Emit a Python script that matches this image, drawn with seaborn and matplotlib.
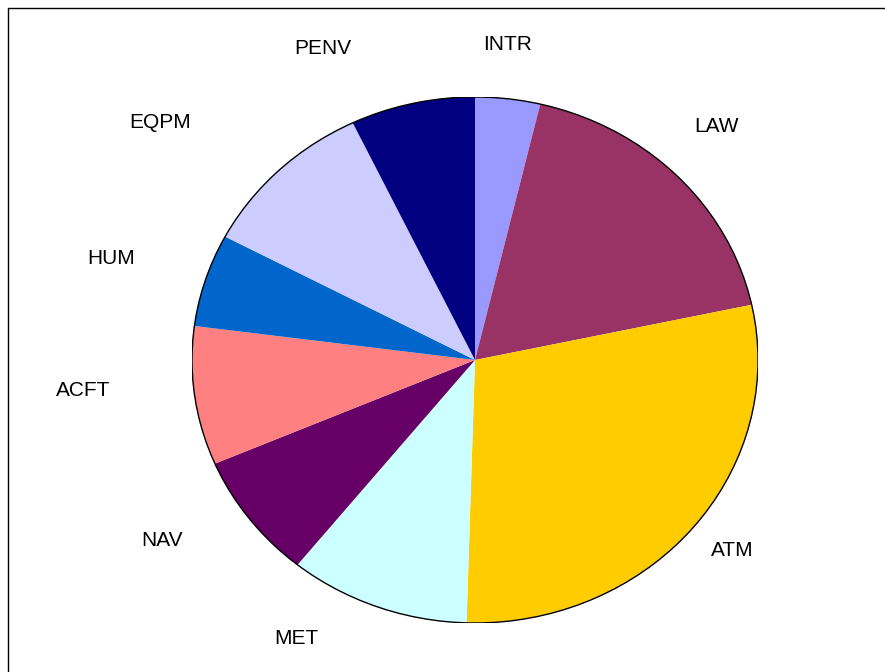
import matplotlib
matplotlib.use("Agg")
import matplotlib.pyplot as plt
import seaborn as sns
from matplotlib.patches import Circle
from matplotlib.lines import Line2D

sns.set_theme(style="white")
plt.rcParams['font.family'] = ['Liberation Sans', 'DejaVu Sans']

categories = ["INTR", "LAW", "ATM", "MET", "NAV", "ACFT", "HUM", "EQPM", "PENV"]
values = [3.7, 17.9, 28.8, 10.3, 7.75, 8.5, 5.7, 10.1, 7.1]
colors = ["#9999FF", "#993366", "#FFCC00", "#CCFFFF", "#660066",
          "#FF8080", "#0066CC", "#CCCCFF", "#000080"]

# label centre positions in figure pixels (layout only)
label_px = [(508, 45), (717, 127), (732, 551), (296, 638), (162, 540),
            (83, 390), (111, 259), (160, 122), (323, 48)]

W, H = 885, 672
fig = plt.figure(figsize=(W / 100, H / 100), dpi=100)
fig.patch.set_facecolor("white")

cx, cy, rx, ry = 475, 360, 283, 263
ax = fig.add_axes([(cx - rx) / W, (H - cy - ry) / H, 2 * rx / W, 2 * ry / H])
wedges, texts = ax.pie(values, labels=categories, colors=colors, startangle=90,
                       counterclock=False, labeldistance=1.2,
                       wedgeprops=dict(linewidth=0),
                       textprops=dict(fontsize=15, color="black"))
for t, (px, py) in zip(texts, label_px):
    t.set_position(((px - cx) / rx, (cy - py) / ry))
    t.set_ha("center")
    t.set_va("center")
ax.add_patch(Circle((0, 0), 1, fill=False, ec="black", lw=1.0))
ax.set_aspect("auto")
ax.set_xlim(-1, 1)
ax.set_ylim(-1, 1)
ax.axis("off")

fig.add_artist(Line2D([7.5 / W, 7.5 / W], [0, 1 - 7.5 / H], transform=fig.transFigure, color="black", lw=1))
fig.add_artist(Line2D([7.5 / W, 1], [1 - 7.5 / H, 1 - 7.5 / H], transform=fig.transFigure, color="black", lw=1))

fig.savefig("out.png", dpi=100)
